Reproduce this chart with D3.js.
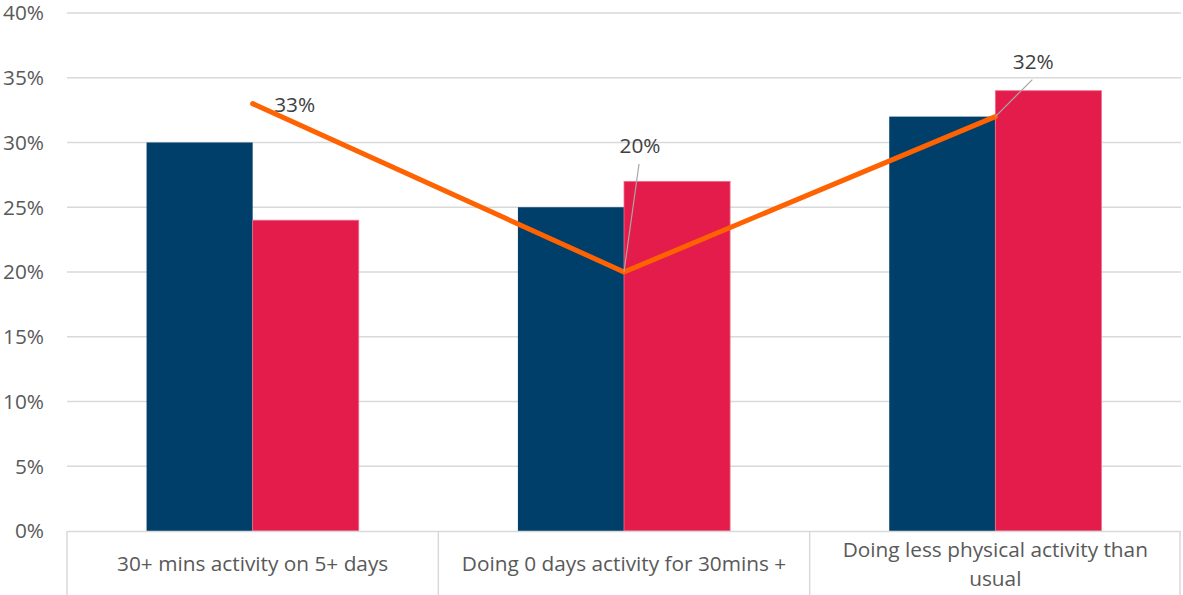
<!DOCTYPE html>
<html>
<head>
<meta charset="utf-8">
<script src="https://cdn.jsdelivr.net/npm/d3@7"></script>
<style>
  html, body { margin: 0; padding: 0; background: #fff; }
  svg { display: block; font-family: "Open Sans", Lato, sans-serif; }
</style>
</head>
<body>
<svg id="chart" width="1183" height="595"></svg>
<script>
// Categories and series values (percent)
const categories = [
  "30+ mins activity on 5+ days",
  "Doing 0 days activity for 30mins +",
  "Doing less physical activity than usual"
];
const seriesNavy = [30, 25, 32];
const seriesRed = [24, 27, 34];
const lineValues = [33, 20, 32];
const yTicks = [0, 5, 10, 15, 20, 25, 30, 35, 40];

const svg = d3.select("#chart");
const plotLeft = 67, plotRight = 1181, plotTop = 13, plotBottom = 531;
const fontSize = 20.8;

const x = d3.scaleBand().domain(categories).range([plotLeft, plotRight]);
const y = d3.scaleLinear().domain([0, 40]).range([plotBottom, plotTop]);
const bw = x.bandwidth() / 3.5;
const inner = d3.scaleBand().domain([0, 1]).range([0, 2 * bw]);

// Gridlines
svg.append("g").selectAll("line").data(yTicks.slice(1)).join("line")
  .attr("x1", plotLeft).attr("x2", plotRight)
  .attr("y1", d => y(d)).attr("y2", d => y(d))
  .attr("stroke", "#d9d9d9").attr("stroke-width", 1.5);

// Y tick labels
svg.append("g").selectAll("text").data(yTicks).join("text")
  .attr("x", 44).attr("y", d => y(d)).attr("dy", "0.35em")
  .attr("text-anchor", "end")
  .attr("font-size", fontSize).attr("fill", "#595959")
  .text(d => d + "%");

// Bars
const groups = svg.append("g").selectAll("g").data(categories).join("g")
  .attr("transform", c => `translate(${x(c) + (x.bandwidth() - 2 * bw) / 2},0)`);
groups.append("rect")
  .attr("x", inner(0)).attr("width", inner.bandwidth())
  .attr("y", (c, i) => y(seriesNavy[i]))
  .attr("height", (c, i) => y(0) - y(seriesNavy[i]))
  .attr("fill", "#003f6a");
groups.append("rect")
  .attr("x", inner(1)).attr("width", inner.bandwidth())
  .attr("y", (c, i) => y(seriesRed[i]))
  .attr("height", (c, i) => y(0) - y(seriesRed[i]))
  .attr("fill", "#e31c4b")
  .attr("stroke", "#ee6f8c").attr("stroke-width", 0.8);

// Category axis box
const axisG = svg.append("g");
axisG.append("line").attr("x1", plotLeft).attr("x2", plotRight)
  .attr("y1", plotBottom + 0.5).attr("y2", plotBottom + 0.5)
  .attr("stroke", "#d9d9d9").attr("stroke-width", 1.5);
const seps = categories.map(c => x(c)).concat([plotRight - 1]);
axisG.selectAll("line.sep").data(seps).join("line").attr("class", "sep")
  .attr("x1", d => d).attr("x2", d => d)
  .attr("y1", plotBottom).attr("y2", 595)
  .attr("stroke", "#d9d9d9").attr("stroke-width", 1.5);

// Category labels (wrapped)
const labelLines = [
  ["30+ mins activity on 5+ days"],
  ["Doing 0 days activity for 30mins +"],
  ["Doing less physical activity than", "usual"]
];
categories.forEach((c, i) => {
  const lines = labelLines[i];
  const cx = x(c) + x.bandwidth() / 2;
  const y0 = lines.length === 1 ? 571 : 557;
  lines.forEach((ln, j) => {
    axisG.append("text")
      .attr("x", cx).attr("y", y0 + j * 29)
      .attr("text-anchor", "middle")
      .attr("font-size", fontSize).attr("fill", "#595959")
      .text(ln);
  });
});

// Line series
const cxLine = c => x(c) + x.bandwidth() / 2;
svg.append("path")
  .datum(lineValues)
  .attr("d", d3.line().x((d, i) => cxLine(categories[i])).y(d => y(d)))
  .attr("fill", "none").attr("stroke", "#ff6200")
  .attr("stroke-width", 5).attr("stroke-linecap", "round")
  .attr("stroke-linejoin", "miter");

// Data labels with leader lines
const labelPos = [
  { dx: 42, dy: 1, leader: false },
  { dx: 16, dy: -126, leader: true },
  { dx: 38, dy: -55, leader: true }
];
lineValues.forEach((v, i) => {
  const px = cxLine(categories[i]), py = y(v);
  const p = labelPos[i];
  if (p.leader) {
    svg.append("line")
      .attr("x1", px).attr("y1", py)
      .attr("x2", px + p.dx - 1).attr("y2", py + p.dy + 18)
      .attr("stroke", "#a6a6a6").attr("stroke-width", 1.2);
  }
  svg.append("text")
    .attr("x", px + p.dx).attr("y", py + p.dy).attr("dy", "0.35em")
    .attr("text-anchor", "middle")
    .attr("font-size", fontSize).attr("fill", "#404040")
    .text(v + "%");
});
</script>
</body>
</html>
